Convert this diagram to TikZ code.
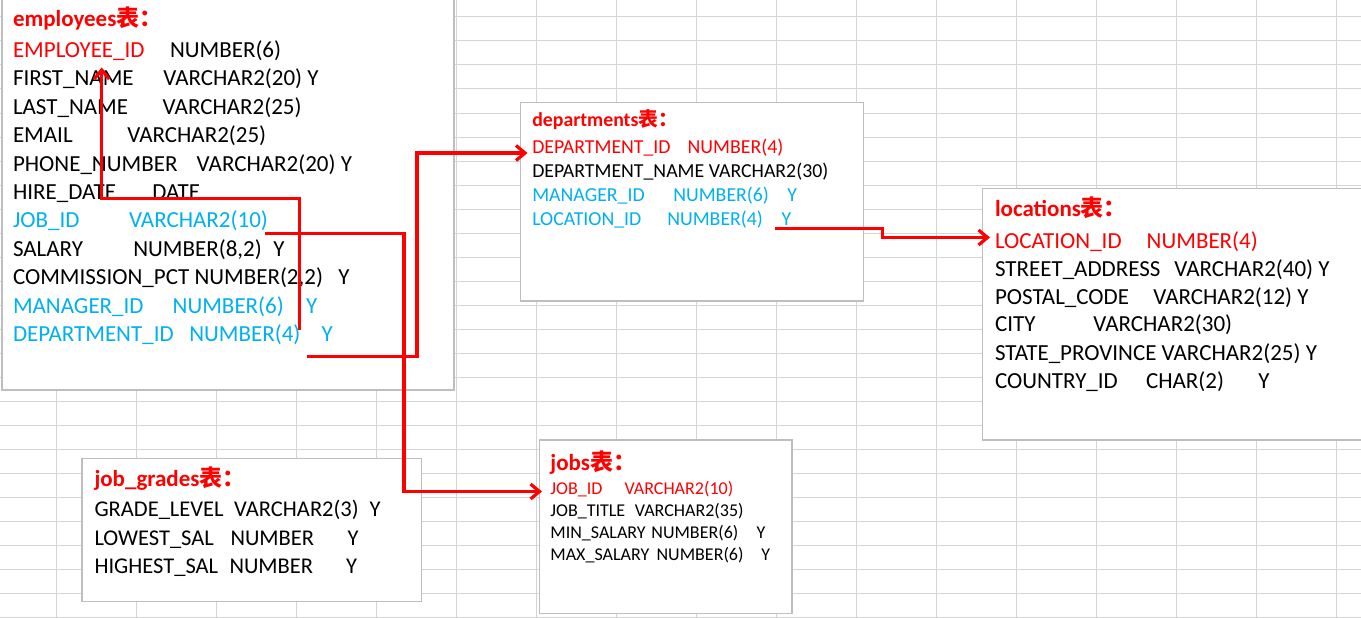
\documentclass[tikz,border=0pt]{standalone}
\usepackage{fontspec}
\setmainfont{Carlito}
\newfontfamily\cjk{Noto Sans CJK SC}
\usetikzlibrary{arrows.meta}
\definecolor{xred}{RGB}{255,0,0}
\definecolor{xblue}{RGB}{0,176,240}
\definecolor{gridc}{RGB}{212,212,212}
\definecolor{boxc}{RGB}{190,190,190}
\begin{document}
\begin{tikzpicture}[x=1pt,y=-1pt,
  tbox/.style={draw=boxc, line width=1.3pt, fill=white, anchor=north west, inner sep=0pt, outer sep=0pt},
  txt/.style={anchor=base west, inner sep=0pt, outer sep=0pt, text=black},
  et/.style={txt, font=\fontsize{23}{28}\selectfont},
  dt/.style={txt, font=\fontsize{19.8}{24}\selectfont},
  lt/.style={txt, font=\fontsize{23}{28}\selectfont},
  gt/.style={txt, font=\fontsize{22.5}{28}\selectfont},
  jt/.style={txt, font=\fontsize{18}{22}\selectfont},
  hd/.style={anchor=base west, inner sep=0pt, outer sep=0pt, text=xred, font=\bfseries\fontsize{#1}{#1}\selectfont},
  link/.style={draw=xred, line width=3.2pt},
  arr/.style={link, -{Straight Barb[length=9pt,width=15pt]}}
]
\useasboundingbox (0,0) rectangle (1361,618);
\fill[white] (0,0) rectangle (1361,618);
% spreadsheet grid
\foreach \x in {56,136,...,1336} \draw[gridc, line width=1pt] (\x,0) -- (\x,618);
\foreach \y in {17,41,...,617} \draw[gridc, line width=1pt] (0,\y) -- (1361,\y);

% boxes
\node[tbox, minimum width=452pt, minimum height=395pt] (empbox) at (2,-5) {};
\node[tbox, minimum width=342.6pt, minimum height=198.7pt] (depbox) at (520.7,102.3) {};
\node[tbox, minimum width=390pt, minimum height=251.7pt] (locbox) at (982.7,188.3) {};
\node[tbox, minimum width=339.5pt, minimum height=143.4pt] (jgbox) at (82,458.3) {};
\node[tbox, minimum width=252.4pt, minimum height=173.3pt] (jobbox) at (539.6,440) {};

% employees
\node[hd=23] (emph) at (13,27) {employees{\cjk 表：}};
\node[et, text=xred] (e1n) at (13,57.3) {EMPLOYEE\_ID};
\node[et] (e1t) at (170,57.3) {NUMBER(6)};
\node[et] (e2n) at (13,85.7) {FIRST\_NAME};
\node[et] (e2t) at (163.3,85.7) {VARCHAR2(20) Y};
\node[et] (e3n) at (13,114.2) {LAST\_NAME};
\node[et] (e3t) at (162.7,114.2) {VARCHAR2(25)};
\node[et] (e4n) at (13,142.6) {EMAIL};
\node[et] (e4t) at (127.3,142.6) {VARCHAR2(25)};
\node[et] (e5n) at (13,171.1) {PHONE\_NUMBER};
\node[et] (e5t) at (196.7,171.1) {VARCHAR2(20) Y};
\node[et] (e6n) at (13,199.5) {HIRE\_DATE};
\node[et] (e6t) at (152.3,199.5) {DATE};
\node[et, text=xblue] (e7n) at (13,227.9) {JOB\_ID};
\node[et, text=xblue] (e7t) at (129,227.9) {VARCHAR2(10)};
\node[et] (e8n) at (13,256.4) {SALARY};
\node[et] (e8t) at (133.3,256.4) {NUMBER(8,2)};
\node[et] (e8y) at (273.3,256.4) {Y};
\node[et] (e9n) at (13,284.8) {COMMISSION\_PCT NUMBER(2,2)};
\node[et] (e9y) at (338.3,284.8) {Y};
\node[et, text=xblue] (e10n) at (13,313.3) {MANAGER\_ID};
\node[et, text=xblue] (e10t) at (172.7,313.3) {NUMBER(6)};
\node[et, text=xblue] (e10y) at (306,313.3) {Y};
\node[et, text=xblue] (e11n) at (13,341.7) {DEPARTMENT\_ID};
\node[et, text=xblue] (e11t) at (189.3,341.7) {NUMBER(4)};
\node[et, text=xblue] (e11y) at (321.7,341.7) {Y};

% departments
\node[hd=19.8] (deph) at (532.3,126.7) {departments{\cjk 表：}};
\node[dt, text=xred] (d1n) at (532.3,153.3) {DEPARTMENT\_ID};
\node[dt, text=xred] (d1t) at (687.7,153.3) {NUMBER(4)};
\node[dt] (d2n) at (532.3,177.4) {DEPARTMENT\_NAME VARCHAR2(30)};
\node[dt, text=xblue] (d3n) at (532.3,201.5) {MANAGER\_ID};
\node[dt, text=xblue] (d3t) at (673.3,201.5) {NUMBER(6)};
\node[dt, text=xblue] (d3y) at (787.3,201.5) {Y};
\node[dt, text=xblue] (d4n) at (532.3,225.6) {LOCATION\_ID};
\node[dt, text=xblue] (d4t) at (667.3,225.6) {NUMBER(4)};
\node[dt, text=xblue] (d4y) at (781.7,225.6) {Y};

% locations
\node[hd=23] (loch) at (995,216.7) {locations{\cjk 表：}};
\node[lt, text=xred] (l1n) at (995,248.3) {LOCATION\_ID};
\node[lt, text=xred] (l1t) at (1146.7,248.3) {NUMBER(4)};
\node[lt] (l2n) at (995,276) {STREET\_ADDRESS};
\node[lt] (l2t) at (1174.3,276) {VARCHAR2(40) Y};
\node[lt] (l3n) at (995,304) {POSTAL\_CODE};
\node[lt] (l3t) at (1153.3,304) {VARCHAR2(12) Y};
\node[lt] (l4n) at (995,331.7) {CITY};
\node[lt] (l4t) at (1093.3,331.7) {VARCHAR2(30)};
\node[lt] (l5n) at (995,360) {STATE\_PROVINCE VARCHAR2(25) Y};
\node[lt] (l6n) at (995,388.3) {COUNTRY\_ID};
\node[lt] (l6t) at (1146,388.3) {CHAR(2)};
\node[lt] (l6y) at (1258.3,388.3) {Y};

% job_grades
\node[hd=23] (jgh) at (94.5,486.7) {job\_grades{\cjk 表：}};
\node[gt] (g1n) at (94.5,516.7) {GRADE\_LEVEL};
\node[gt] (g1t) at (234.2,516.7) {VARCHAR2(3)};
\node[gt] (g1y) at (369.7,516.7) {Y};
\node[gt] (g2n) at (94.5,545) {LOWEST\_SAL};
\node[gt] (g2t) at (230.5,545) {NUMBER};
\node[gt] (g2y) at (347.5,545) {Y};
\node[gt] (g3n) at (94.5,573.3) {HIGHEST\_SAL};
\node[gt] (g3t) at (229.5,573.3) {NUMBER};
\node[gt] (g3y) at (346,573.3) {Y};

% jobs
\node[hd=23] (jobh) at (550.4,470) {jobs{\cjk 表：}};
\node[jt, text=xred] (j1n) at (550.4,494) {JOB\_ID};
\node[jt, text=xred] (j1t) at (624.5,494) {VARCHAR2(10)};
\node[jt] (j2n) at (550.4,516) {JOB\_TITLE};
\node[jt] (j2t) at (634.9,516) {VARCHAR2(35)};
\node[jt] (j3n) at (550.4,538.3) {MIN\_SALARY};
\node[jt] (j3t) at (651.4,538.3) {NUMBER(6)};
\node[jt] (j3y) at (756.6,538.3) {Y};
\node[jt] (j4n) at (550.4,560) {MAX\_SALARY};
\node[jt] (j4t) at (656.6,560) {NUMBER(6)};
\node[jt] (j4y) at (761.4,560) {Y};

% connector end points
\coordinate (cJobS) at (265,233.3);
\coordinate (cJobE) at (542,491.5);
\coordinate (cDepS) at (306.7,356.7);
\coordinate (cDepE) at (527.5,153);
\coordinate (cMgrS) at (299.3,330);
\coordinate (cMgrE) at (101.7,67.5);
\coordinate (cLocS) at (775,228.3);
\coordinate (cLocE) at (990,237.5);

% connectors
\draw[arr] (cMgrS) -- (cMgrS |- 0,198.3) -- (cMgrE |- 0,198.3) -- (cMgrE);
\draw[arr] (cJobS) -- (404,233.3) -- (404,491.5) -- (cJobE);
\draw[arr] (cDepS) -- (417,356.7) -- (417,153) -- (cDepE);
\draw[arr] (cLocS) -- (882.7,228.3) -- (882.7,237.5) -- (cLocE);
\end{tikzpicture}
\end{document}
